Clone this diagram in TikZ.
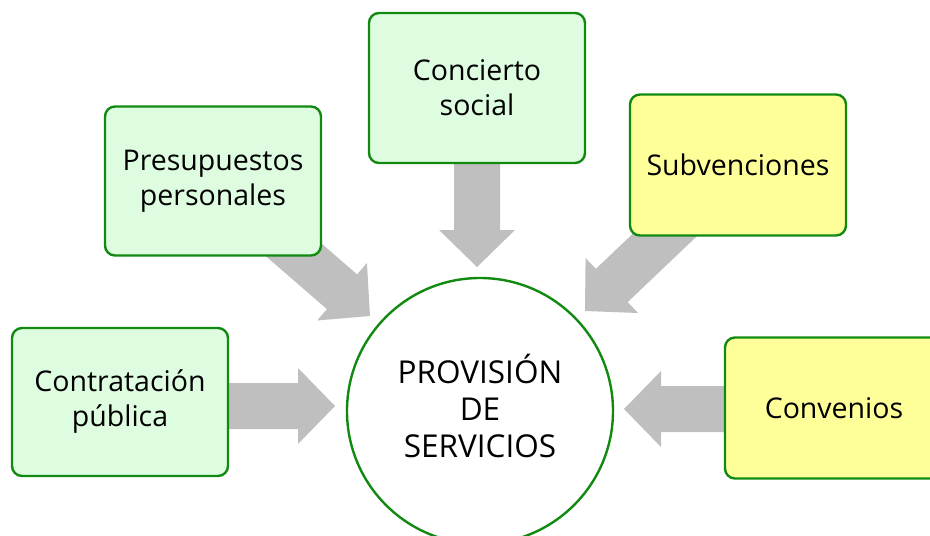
\documentclass[tikz,border=0pt]{standalone}
\usepackage{fontspec}
\setmainfont{Open Sans}
\usetikzlibrary{calc}
\definecolor{boxgreen}{HTML}{DDFCE0}
\definecolor{edgegreen}{HTML}{128A12}
\definecolor{boxyellow}{HTML}{FFFF99}
\definecolor{arrowgray}{HTML}{BFBFBF}
\newcommand{\blockarrow}[2]{%
  \coordinate (#1h) at ($(#2)!37pt!(#1)$);
  \fill[arrowgray] ($(#1)!23pt!90:(#2)$) -- ($(#1h)!23pt!90:(#2)$) -- ($(#1h)!38pt!90:(#2)$) -- (#2)
    -- ($(#1h)!38pt!-90:(#2)$) -- ($(#1h)!23pt!-90:(#2)$) -- ($(#1)!23pt!-90:(#2)$) -- cycle;}
\tikzset{
  box/.style={draw=edgegreen, line width=2.4pt, rounded corners=10pt, minimum width=216pt,
    minimum height=148pt, align=center, inner sep=0pt, font=\fontsize{28.5}{35}\selectfont},
  greenbox/.style={box, fill=boxgreen},
  yellowbox/.style={box, fill=boxyellow},
}
\begin{document}
\begin{tikzpicture}[x=1pt, y=-1pt]
\useasboundingbox (0,0) rectangle (930,536);
\clip (0,0) rectangle (930,536);
% arrows
\coordinate (s1) at (200,406); \coordinate (t1) at (335,406);
\coordinate (s2) at (250,212); \coordinate (t2) at (370,316);
\coordinate (s3) at (477,120); \coordinate (t3) at (477,267);
\coordinate (s4) at (690,211); \coordinate (t4) at (585,311);
\coordinate (s5) at (780,409); \coordinate (t5) at (624,409);
\blockarrow{s1}{t1}
\blockarrow{s2}{t2}
\blockarrow{s3}{t3}
\blockarrow{s4}{t4}
\blockarrow{s5}{t5}
% boxes
\node[greenbox] (contr) at (120,402) {Contratación\\pública};
\node[greenbox, minimum height=149pt] (presu) at (213,181) {Presupuestos\\personales};
\node[greenbox, minimum height=150pt] (conci) at (477,88) {Concierto\\social};
\node[yellowbox, minimum height=141pt] (subve) at (738,165) {Subvenciones};
\node[yellowbox, minimum height=141pt, minimum width=218pt] (conve) at (834,408) {Convenios};
% circle
\node[circle, draw=edgegreen, line width=2.4pt, fill=white, minimum size=266pt, inner sep=0pt,
  font=\fontsize{31.5}{37}\selectfont] (prov) at (480,411)
  {\raisebox{5pt}{\begin{tabular}{@{}c@{}}PROVISIÓN\\DE\\SERVICIOS\end{tabular}}};
\end{tikzpicture}
\end{document}
